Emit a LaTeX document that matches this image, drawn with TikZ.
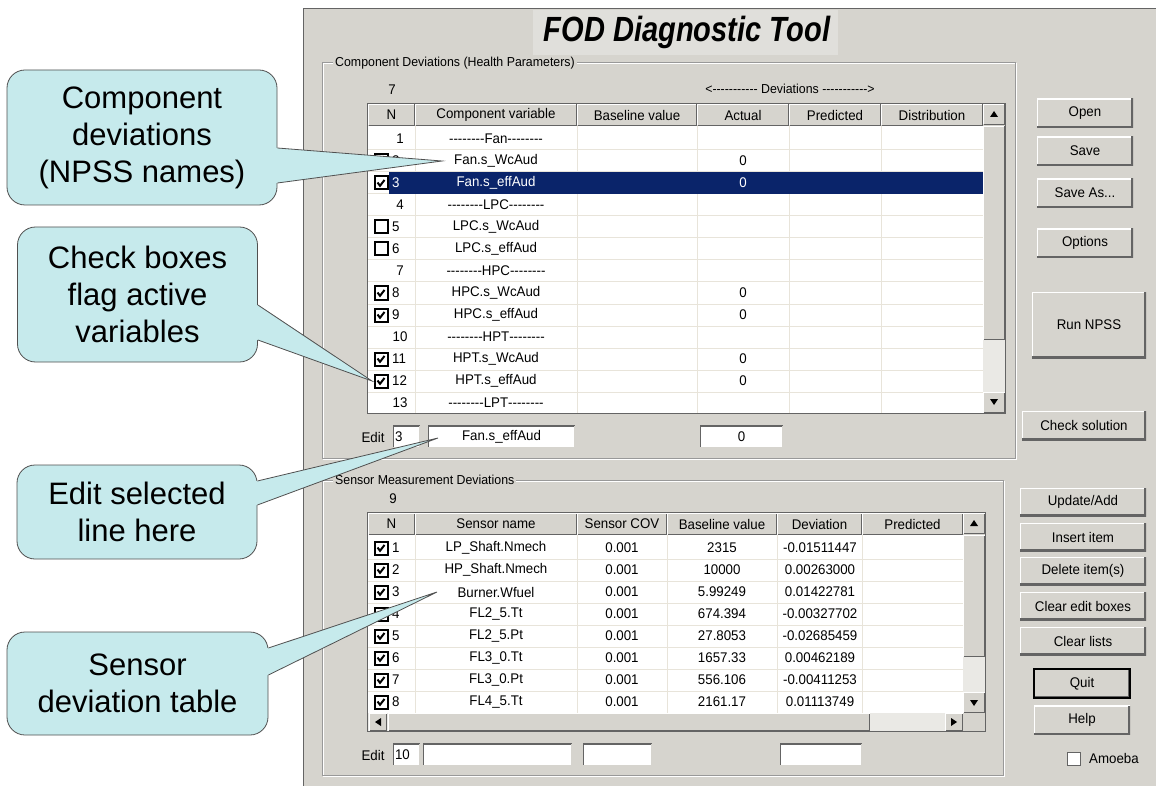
\documentclass[tikz,border=0pt]{standalone}
\usepackage{fontspec}
\setmainfont{Liberation Sans}
\newfontfamily\guifont[FakeStretch=0.95]{Liberation Sans}
\newfontfamily\titlefont[FakeStretch=0.83]{Liberation Sans}
\definecolor{panel}{RGB}{214,212,206}
\definecolor{titlebg}{RGB}{224,223,219}
\definecolor{btndark}{RGB}{100,100,100}
\definecolor{grid}{RGB}{232,228,218}
\definecolor{selblue}{RGB}{10,36,106}
\definecolor{callfill}{RGB}{198,234,236}
\definecolor{calledge}{RGB}{80,80,80}
\definecolor{track}{RGB}{234,233,229}
\newcommand\hy{\mbox{-}}
\newcommand\dsh{\hy\hy\hy\hy\hy\hy\hy\hy}
% raised 3d cell: left, top, right, bottom
\newcommand\raised[4]{%
  \fill[panel] (#1,#2) rectangle (#3,#4);
  \draw[white,line width=1pt] (#1+0.5,#4-0.5) -- (#1+0.5,#2+0.5) -- (#3-0.5,#2+0.5);
  \draw[btndark,line width=1pt] (#1+0.5,#4-0.5) -- (#3-0.5,#4-0.5) -- (#3-0.5,#2+0.5);}
\tikzset{
  chkoff/.pic={\draw[line width=2pt,fill=white] (-6.5,-6.5) rectangle (6.5,6.5);},
  chkon/.pic={\draw[line width=2pt,fill=white] (-6.5,-6.5) rectangle (6.5,6.5);
    \draw[line width=2pt] (-3.5,-0.5) -- (-1,2.8) -- (3.5,-3);}
}
\begin{document}
\begin{tikzpicture}[x=1pt,y=-1pt,
  callout/.style={draw=calledge,fill=callfill,line width=0.8pt,rounded corners=18pt,
    align=center,inner sep=0pt,font=\fontsize{31}{37}\selectfont},
  gui/.style={inner sep=0pt,font=\guifont\fontsize{14}{16}\selectfont},
  small/.style={inner sep=0pt,font=\guifont\fontsize{13}{15}\selectfont},
  btn/.style={gui,fill=panel,minimum height=29pt,path picture={
    \draw[white,line width=2.5pt] (path picture bounding box.south west) -- (path picture bounding box.north west) -- (path picture bounding box.north east);
    \draw[btndark,line width=3.5pt] (path picture bounding box.south west) -- (path picture bounding box.south east) -- (path picture bounding box.north east);}},
  editbox/.style={gui,fill=white,minimum height=23pt,path picture={
    \draw[btndark,line width=2.5pt] (path picture bounding box.south west) -- (path picture bounding box.north west) -- (path picture bounding box.north east);
    \draw[panel,line width=2.5pt] (path picture bounding box.south west) -- (path picture bounding box.south east) -- (path picture bounding box.north east);}},
  grid line/.style={draw=grid,line width=1pt},
  etched/.style={draw=gray!80,line width=1pt}]

\useasboundingbox (0,0) rectangle (1156,786);
\fill[white] (0,0) rectangle (1156,786);

% the window
\fill[panel] (303,8) rectangle (1156,786);
\draw[btndark,line width=1.5pt] (303.5,786) -- (303.5,8.5) -- (1156,8.5);
\fill[titlebg] (533,10) rectangle (838,55);
\node[font=\titlefont\bfseries\itshape\fontsize{35}{35}\selectfont] (title) at (687,32) {FOD Diagnostic Tool};

% the group boxes
\draw[white,line width=1pt] (323,64) rectangle (1016,459);
\draw[etched] (322,63) rectangle (1015,458);
\node[small,fill=panel,inner xsep=2pt,anchor=west] (grpcomp) at (333,63) {Component Deviations (Health Parameters)};
\draw[white,line width=1pt] (323,481) rectangle (1004,776);
\draw[etched] (322,480) rectangle (1003,775);
\node[small,fill=panel,inner xsep=2pt,anchor=west] (grpsens) at (333,480) {Sensor Measurement Deviations};

%% component table
\node[gui] (ncomp) at (392,90) {7};
\node[small] (devhdr) at (790,89) {<\dsh\hy\hy\hy\ Deviations \dsh\hy\hy\hy>};
\fill[white] (368,126) rectangle (983,413);
\foreach \xa/\xb/\txt [count=\i] in {368/415/N, 415/577/Component variable, 577/697/Baseline value,
    697/789/Actual, 789/881/Predicted, 881/983/Distribution}{
  \raised{\xa}{104}{\xb}{126}
  \node[gui] (ch\i) at ({(\xa+\xb)/2},115) {\txt};
}
\foreach \y in {150,172,...,392} \draw[grid line] (368,\y) -- (983,\y);
\foreach \x in {415,577,697,789,881} \draw[grid line] (\x,126) -- (\x,413);
\fill[selblue] (389,172) rectangle (983,194);

% row numbers and check boxes
\foreach \n in {1,4,7,10,13} \node[gui] (cn\n) at (400,{117+22*\n}) {\n};
\foreach \n in {2,5,6,8,9,11,12} \node[gui,anchor=west] (cn\n) at (392,{117+22*\n}) {\n};
\node[gui,anchor=west,text=white] (cn3) at (392,183) {3};
\foreach \n in {2,3,8,9,11,12} \pic at (381,{117+22*\n}) {chkon};
\foreach \n in {5,6} \pic at (381,{117+22*\n}) {chkoff};

% variable names and deviations
\foreach \n/\var/\act in {1/{\dsh Fan\dsh}/{}, 2/Fan.s\_WcAud/0, 4/{\dsh LPC\dsh}/{},
    5/LPC.s\_WcAud/{}, 6/LPC.s\_effAud/{}, 7/{\dsh HPC\dsh}/{}, 8/HPC.s\_WcAud/0,
    9/HPC.s\_effAud/0, 10/{\dsh HPT\dsh}/{}, 11/HPT.s\_WcAud/0, 12/HPT.s\_effAud/0,
    13/{\dsh LPT\dsh}/{}}{
  \node[gui] (cv\n) at (496,{117+22*\n}) {\var};
  \node[gui] (ca\n) at (743,{117+22*\n}) {\act};
}
\node[gui,text=white] (cv3) at (496,183) {Fan.s\_effAud};
\node[gui,text=white] (ca3) at (743,183) {0};

% scroll bar
\fill[track] (983,126) rectangle (1005,392);
\raised{983}{104}{1005}{125}
\raised{983}{126}{1005}{340}
\raised{983}{392}{1005}{413}
\fill (994,111) -- (990,117) -- (998,117) -- cycle;
\fill (994,405) -- (990,399) -- (998,399) -- cycle;
\draw[btndark,line width=1pt] (367.5,103.5) rectangle (1005.5,413.5);

% edit line
\node[gui] (editc) at (373,437) {Edit};
\node[editbox,text width=23pt,inner xsep=2pt,align=left] (editcn) at (406.5,437) {3};
\node[editbox,minimum width=147pt] (editcv) at (501.5,437) {Fan.s\_effAud};
\node[editbox,minimum width=83pt] (editca) at (741.5,437) {0};

%% sensor table
\node[gui] (nsens) at (393,499) {9};
\fill[white] (368,535) rectangle (963,713);
\foreach \xa/\xb/\txt [count=\i] in {368/415/N, 415/577/Sensor name, 577/667/Sensor COV,
    667/777/Baseline value, 777/862/Deviation, 862/963/Predicted}{
  \raised{\xa}{513}{\xb}{535}
  \node[gui] (sh\i) at ({(\xa+\xb)/2},524) {\txt};
}
\foreach \y in {559,581,...,691} \draw[grid line] (368,\y) -- (963,\y);
\foreach \x in {415,577,667,777,862} \draw[grid line] (\x,535) -- (\x,713);
\foreach \n/\nm/\cov/\base/\dev in {1/LP\_Shaft.Nmech/0.001/2315/-0.01511447,
    2/HP\_Shaft.Nmech/0.001/10000/0.00263000, 3/Burner.Wfuel/0.001/5.99249/0.01422781,
    4/FL2\_5.Tt/0.001/674.394/-0.00327702, 5/FL2\_5.Pt/0.001/27.8053/-0.02685459,
    6/FL3\_0.Tt/0.001/1657.33/0.00462189, 7/FL3\_0.Pt/0.001/556.106/-0.00411253,
    8/FL4\_5.Tt/0.001/2161.17/0.01113749}{
  \pic at (381,{526+22*\n}) {chkon};
  \node[gui,anchor=west] (sn\n) at (392,{526+22*\n}) {\n};
  \node[gui] (sv\n) at (496,{526+22*\n}) {\nm};
  \node[gui] (sc\n) at (622,{526+22*\n}) {\cov};
  \node[gui] (sb\n) at (722,{526+22*\n}) {\base};
  \node[gui] (sd\n) at (820,{526+22*\n}) {\dev};
}

% scroll bars
\fill[track] (963,535) rectangle (985,692);
\raised{963}{513}{985}{534}
\raised{963}{535}{985}{657}
\raised{963}{692}{985}{713}
\fill (974,520) -- (970,526) -- (978,526) -- cycle;
\fill (974,706) -- (970,700) -- (978,700) -- cycle;
\fill[track] (368,713) rectangle (963,731);
\raised{369}{713}{387}{731}
\raised{388}{713}{870}{731}
\raised{945}{713}{963}{731}
\fill[panel] (963,713) rectangle (985,731);
\fill (375,722) -- (381,718) -- (381,726) -- cycle;
\fill (957,722) -- (951,718) -- (951,726) -- cycle;
\draw[btndark,line width=1pt] (367.5,512.5) rectangle (985.5,731.5);

% edit line
\node[gui] (edits) at (373,755) {Edit};
\node[editbox,text width=23pt,inner xsep=2pt,align=left] (editsn) at (406.5,755) {10};
\node[editbox,minimum width=149pt] (editsv) at (497.5,755) {};
\node[editbox,minimum width=69pt] (editsc) at (617.5,755) {};
\node[editbox,minimum width=82pt] (editsd) at (821,755) {};

%% buttons
\node[btn,minimum width=96pt] (bopen) at (1085,113) {Open};
\node[btn,minimum width=96pt] (bsave) at (1085,151) {Save};
\node[btn,minimum width=96pt] (bsaveas) at (1085,193) {Save As...};
\node[btn,minimum width=96pt] (bopt) at (1085,243) {Options};
\node[btn,minimum width=114pt,minimum height=66pt] (brun) at (1089,325) {Run NPSS};
\node[btn,minimum width=124pt] (bcheck) at (1084,425.5) {Check solution};
\node[btn,minimum width=126pt,minimum height=28pt] (bupd) at (1083,502) {Update/Add};
\node[btn,minimum width=126pt,minimum height=28pt] (bins) at (1083,537) {Insert item};
\node[btn,minimum width=126pt,minimum height=28pt] (bdel) at (1083,571) {Delete item(s)};
\node[btn,minimum width=126pt,minimum height=28pt] (bclredit) at (1083,606) {Clear edit boxes};
\node[btn,minimum width=126pt,minimum height=28pt] (bclrlist) at (1083,641) {Clear lists};
\node[btn,minimum width=96pt,draw=black,line width=1.2pt] (bquit) at (1082,683.5) {Quit};
\node[btn,minimum width=96pt] (bhelp) at (1082,720) {Help};
\node[draw=btndark,fill=white,minimum size=13pt,inner sep=0pt] (amoebabox) at (1074,759) {};
\node[gui,anchor=west] (amoeba) at (1089,758) {Amoeba};

%% callouts
\node[callout,minimum width=270pt,minimum height=135pt] (cdev) at (142,137.5) {Component\\deviations\\(NPSS names)};
\node[callout,minimum width=240pt,minimum height=135pt] (cchk) at (137.5,294.5) {Check boxes\\flag active\\variables};
\node[callout,minimum width=240pt,minimum height=94pt] (cedit) at (137,512) {Edit selected\\line here};
\node[callout,minimum width=261pt,minimum height=103pt] (csens) at (137.5,683.5) {Sensor\\deviation table};

\coordinate (cdevtip) at (442,161);
\coordinate (cchktip) at (372,381);
\coordinate (cedittip) at (438,438);
\coordinate (csenstip) at (437,592);

% the pointers
\fill[callfill] ([shift={(-6,10.5)}]cdev.east) -- ([shift={(0,10.5)}]cdev.east) -- (cdevtip)
  -- ([shift={(0,45.5)}]cdev.east) -- ([shift={(-6,45.5)}]cdev.east) -- cycle;
\draw[calledge,line width=0.8pt] ([shift={(0,10.5)}]cdev.east) -- (cdevtip) -- ([shift={(0,45.5)}]cdev.east);
\fill[callfill] ([shift={(-6,10.5)}]cchk.east) -- ([shift={(0,10.5)}]cchk.east) -- (cchktip)
  -- ([shift={(0,45.5)}]cchk.east) -- ([shift={(-6,45.5)}]cchk.east) -- cycle;
\draw[calledge,line width=0.8pt] ([shift={(0,10.5)}]cchk.east) -- (cchktip) -- ([shift={(0,45.5)}]cchk.east);
\fill[callfill] ([shift={(-6,-31)}]cedit.east) -- ([shift={(0,-31)}]cedit.east) -- (cedittip)
  -- ([shift={(0,-7)}]cedit.east) -- ([shift={(-6,-7)}]cedit.east) -- cycle;
\draw[calledge,line width=0.8pt] ([shift={(0,-31)}]cedit.east) -- (cedittip) -- ([shift={(0,-7)}]cedit.east);
\fill[callfill] ([shift={(-6,-35.5)}]csens.east) -- ([shift={(0,-35.5)}]csens.east) -- (csenstip)
  -- ([shift={(0,-8.5)}]csens.east) -- ([shift={(-6,-8.5)}]csens.east) -- cycle;
\draw[calledge,line width=0.8pt] ([shift={(0,-35.5)}]csens.east) -- (csenstip) -- ([shift={(0,-8.5)}]csens.east);

\end{tikzpicture}
\end{document}
